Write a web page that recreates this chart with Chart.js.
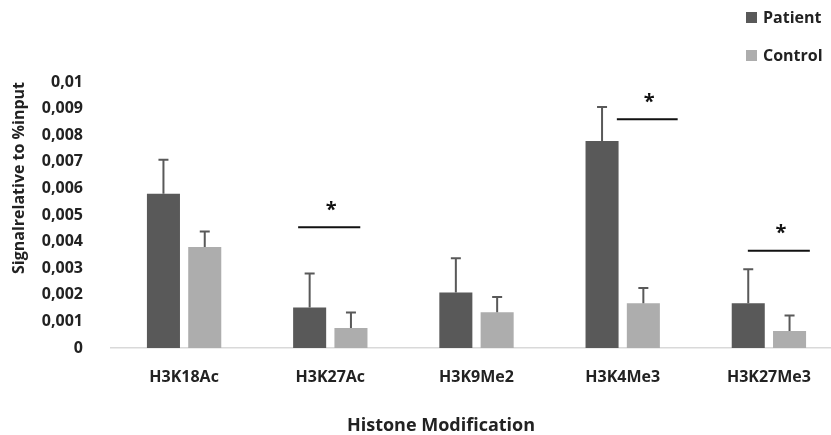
<!DOCTYPE html>
<html lang="en">
<head>
  <meta charset="UTF-8">
  <title>Histone Modification</title>
  <script src="https://cdn.jsdelivr.net/npm/chart.js"></script>
  <style>
    body { margin: 0; overflow: hidden; background: #fff; }
    #wrap { position: relative; width: 845px; height: 435px; }
    #legend { position: absolute; left: 746px; top: 6px; font: bold 16px "Open Sans", sans-serif; color: #222; }
    #legend div { height: 38px; display: flex; align-items: flex-start; }
    #legend span.box { display: inline-block; width: 11px; height: 11px; margin: 6px 6px 0 0; }
  </style>
</head>
<body>
<div id="wrap">
  <canvas id="chipChart" width="845" height="435"></canvas>
  <div id="legend"></div>
</div>

<script>
  var categories = ['H3K18Ac', 'H3K27Ac', 'H3K9Me2', 'H3K4Me3', 'H3K27Me3'];
  var patientValues = [0.0058, 0.00152, 0.00209, 0.00778, 0.00168];
  var patientErrors = [0.00128, 0.00128, 0.00128, 0.00128, 0.00128];
  var controlValues = [0.0038, 0.00075, 0.00134, 0.00168, 0.00064];
  var controlErrors = [0.00058, 0.00058, 0.00058, 0.00058, 0.00058];
  var yTickLabels = ['0', '0,001', '0,002', '0,003', '0,004', '0,005', '0,006', '0,007', '0,008', '0,009', '0,01'];

  // significance bars: category index, level, and extent as fraction of category width
  var sigCategory = [1, 3, 4];
  var sigLevel = [0.00454, 0.0086, 0.00366];
  var sigFrom = [-0.22, -0.04, -0.144];
  var sigTo = [0.205, 0.376, 0.28];

  var font = '"Open Sans", sans-serif';
  var textColor = '#222';

  var errorBars = {
    id: 'errorBars',
    afterDatasetsDraw: function(chart) {
      var ctx = chart.ctx;
      var y = chart.scales.y;
      ctx.save();
      ctx.strokeStyle = '#595959';
      ctx.lineWidth = 2;
      chart.data.datasets.forEach(function(ds, i) {
        chart.getDatasetMeta(i).data.forEach(function(bar, j) {
          var top = y.getPixelForValue(ds.data[j] + ds.errors[j]);
          ctx.beginPath();
          ctx.moveTo(bar.x, bar.y);
          ctx.lineTo(bar.x, top);
          ctx.moveTo(bar.x - 5, top);
          ctx.lineTo(bar.x + 5, top);
          ctx.stroke();
        });
      });
      ctx.restore();
    }
  };

  var sigMarks = {
    id: 'sigMarks',
    afterDatasetsDraw: function(chart) {
      var ctx = chart.ctx;
      var x = chart.scales.x, y = chart.scales.y;
      var cw = x.width / categories.length;
      ctx.save();
      ctx.strokeStyle = '#111';
      ctx.fillStyle = '#111';
      ctx.lineWidth = 2;
      ctx.font = 'bold 20px ' + font;
      ctx.textAlign = 'center';
      ctx.textBaseline = 'middle';
      for (var k = 0; k < sigCategory.length; k++) {
        var c = x.getPixelForValue(sigCategory[k]);
        var x0 = c + sigFrom[k] * cw, x1 = c + sigTo[k] * cw;
        var py = y.getPixelForValue(sigLevel[k]);
        ctx.beginPath();
        ctx.moveTo(x0, py);
        ctx.lineTo(x1, py);
        ctx.stroke();
        ctx.fillText('*', (x0 + x1) / 2 + 2, py - 17);
      }
      // x axis title
      ctx.font = 'bold 18px ' + font;
      ctx.fillStyle = textColor;
      ctx.fillText('Histone Modification', 441, 426);
      ctx.restore();
    }
  };

  var datasets = [
    { label: 'Patient', data: patientValues, errors: patientErrors, backgroundColor: '#595959' },
    { label: 'Control', data: controlValues, errors: controlErrors, backgroundColor: '#adadad' }
  ];

  new Chart(document.getElementById('chipChart'), {
    type: 'bar',
    data: { labels: categories, datasets: datasets },
    plugins: [errorBars, sigMarks],
    options: {
      responsive: false,
      animation: false,
      devicePixelRatio: 1,
      layout: { padding: { top: 82, right: 3, left: 0, bottom: 0 } },
      datasets: { bar: { categoryPercentage: 0.565, barPercentage: 0.8 } },
      plugins: { legend: { display: false }, tooltip: { enabled: false } },
      scales: {
        x: {
          grid: { display: false },
          border: { display: true, color: '#d9d9d9', width: 1.5 },
          ticks: { color: textColor, font: { family: font, size: 16, weight: 'bold' }, padding: 12 },
          afterFit: function(axis) { axis.height = 87; }
        },
        y: {
          min: 0,
          max: 0.01,
          grid: { display: false },
          border: { display: false },
          ticks: {
            stepSize: 0.001,
            padding: 20,
            color: textColor,
            font: { family: font, size: 16, weight: 'bold' },
            callback: function(v, i) { return yTickLabels[i]; }
          },
          title: {
            display: true,
            text: 'Signalrelative to %input',
            align: 'end',
            color: textColor,
            padding: 10,
            font: { family: font, size: 16, weight: 'bold' }
          },
          afterFit: function(axis) { axis.width = 111; }
        }
      }
    }
  });

  var legend = document.getElementById('legend');
  datasets.forEach(function(ds) {
    var row = document.createElement('div');
    row.innerHTML = '<span class="box" style="background:' + ds.backgroundColor + '"></span>' + ds.label;
    legend.appendChild(row);
  });
</script>
</body>
</html>
